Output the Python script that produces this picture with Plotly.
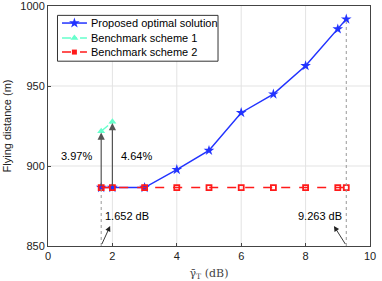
import plotly.graph_objects as go

x_prop = [1.652, 2, 3, 4, 5, 6, 7, 8, 9, 9.263]
y_prop = [886.5, 886.5, 886.5, 897.7, 909.7, 933.3, 944.9, 962.6, 985.6, 991.8]
x_b1 = [1.652, 2]
y_b1 = [921.7, 927.6]
x_b2 = [1.652, 2, 3, 4, 5, 6, 7, 8, 9, 9.263]
y_b2 = [886.5] * 10
pct_labels = ["3.97%", "4.64%"]
db_labels = ["1.652 dB", "9.263 dB"]
series_names = ["Proposed optimal solution", "Benchmark scheme 1", "Benchmark scheme 2"]
x_ticks = [0, 2, 4, 6, 8, 10]
y_ticks = [850, 900, 950, 1000]

BLUE, CYAN, RED = "#2233ff", "#66ffcc", "#ff1a1a"
XR, YR = (0, 10), (850, 1000)

# legend box in plot-area fractions
LBOX = dict(x0=0.0295, x1=0.528, y0=0.770, y1=0.961)


def fx(f):
    return XR[0] + f * (XR[1] - XR[0])


def fy(f):
    return YR[0] + f * (YR[1] - YR[0])


fig = go.Figure()

# gridlines (interrupted behind the legend box)
for xv in x_ticks[1:-1]:
    top = fy(LBOX["y0"]) if fx(LBOX["x0"]) < xv < fx(LBOX["x1"]) else YR[1]
    fig.add_shape(type="line", x0=xv, x1=xv, y0=YR[0], y1=top, layer="below",
                  line=dict(color="#e3e3e3", width=1))
for yv in y_ticks[1:-1]:
    fig.add_shape(type="line", x0=XR[0], x1=XR[1], y0=yv, y1=yv, layer="below",
                  line=dict(color="#e3e3e3", width=1))

fig.add_trace(go.Scatter(x=x_prop, y=y_prop, mode="lines+markers", name=series_names[0],
                         line=dict(color=BLUE, width=1.5),
                         marker=dict(symbol="star", size=8, color=BLUE), showlegend=False))
fig.add_trace(go.Scatter(x=x_b1, y=y_b1, mode="lines+markers", name=series_names[1],
                         line=dict(color=CYAN, width=1.5, dash="dashdot"),
                         marker=dict(symbol="triangle-up", size=7, color=CYAN), showlegend=False))
fig.add_trace(go.Scatter(x=x_b2, y=y_b2, mode="lines+markers", name=series_names[2],
                         line=dict(color=RED, width=1.5, dash="dash"),
                         marker=dict(symbol="square-open", size=5, color=RED, line=dict(width=1.8)),
                         showlegend=False))

# dotted verticals
for xv, yv in [(x_prop[0], y_prop[0]), (x_prop[-1], y_prop[-1])]:
    fig.add_shape(type="line", x0=xv, x1=xv, y0=YR[0], y1=yv,
                  line=dict(color="#999999", width=1, dash="dot"))

# percentage arrows
for xv, yb, yt in [(x_b1[0], y_b2[0], y_b1[0]), (x_b1[1], y_b2[1], y_b1[1])]:
    fig.add_annotation(x=xv, y=yt - 0.8, ax=xv, ay=yb, axref="x", ayref="y", xref="x", yref="y",
                       showarrow=True, arrowhead=2, arrowsize=1.2, arrowwidth=1.2,
                       arrowcolor="#555555", text="")
fig.add_annotation(x=0.87, y=906, text=pct_labels[0], showarrow=False,
                   font=dict(size=11, color="black"))
fig.add_annotation(x=2.75, y=906, text=pct_labels[1], showarrow=False,
                   font=dict(size=11, color="black"))

# dB arrows
fig.add_annotation(x=1.93, y=862.5, ax=1.652, ay=850.3, axref="x", ayref="y",
                   showarrow=True, arrowhead=2, arrowsize=1.2, arrowwidth=0.9,
                   arrowcolor="#222222", text="")
fig.add_annotation(x=2.45, y=868.5, text=db_labels[0], showarrow=False, font=dict(size=11, color="black"))
fig.add_annotation(x=8.88, y=862.5, ax=9.263, ay=850.3, axref="x", ayref="y",
                   showarrow=True, arrowhead=2, arrowsize=1.2, arrowwidth=0.9,
                   arrowcolor="#222222", text="")
fig.add_annotation(x=8.45, y=868.5, text=db_labels[1], showarrow=False, font=dict(size=11, color="black"))

# legend
fig.add_shape(type="rect", xref="x domain", yref="y domain", layer="above",
              line=dict(color="#333333", width=1), **LBOX)
rows = [0.929, 0.867, 0.808]
styles = [(BLUE, "solid", "star", 8), (CYAN, "dashdot", "triangle-up", 7), (RED, "dash", "square", 5)]
for name, ry, (col, dash, sym, sz) in zip(series_names, rows, styles):
    fig.add_trace(go.Scatter(x=[fx(0.0435), fx(0.121)], y=[fy(ry), fy(ry)], mode="lines",
                             line=dict(color=col, width=1.5, dash=dash), showlegend=False,
                             hoverinfo="skip"))
    fig.add_trace(go.Scatter(x=[fx(0.082)], y=[fy(ry)], mode="markers",
                             marker=dict(symbol=sym, size=sz, color=col), showlegend=False,
                             hoverinfo="skip"))
    fig.add_annotation(x=0.127, y=ry, xref="x domain", yref="y domain", text=name, showarrow=False,
                       xanchor="left", yanchor="middle", font=dict(size=11, color="black"))

fig.update_layout(
    width=382, height=281,
    margin=dict(l=48, r=12, t=6, b=35),
    paper_bgcolor="white", plot_bgcolor="white",
    font=dict(family="Liberation Sans, Arial", size=11, color="#222222"),
    showlegend=False, hovermode=False,
    xaxis=dict(range=list(XR), tickvals=x_ticks, showgrid=False, ticklabeloverflow="allow",
               zeroline=False, showline=True, linecolor="#444444", mirror=True, ticks="inside",
               ticklen=3, tickcolor="#444444", automargin=False,
               title=dict(text="γ̄<sub>T</sub> (dB)", standoff=8,
                          font=dict(family="DejaVu Serif, serif", size=11, color="#444444"))),
    yaxis=dict(range=list(YR), tickvals=y_ticks, showgrid=False, ticklabeloverflow="allow",
               zeroline=False, showline=True, linecolor="#444444", mirror=True, ticks="inside",
               ticklen=3, tickcolor="#444444", automargin=False,
               title=dict(text="Flying distance (m)", standoff=6, font=dict(size=11, color="#222222"))),
)

fig.write_html("out.html", config={"displayModeBar": False},
               post_script="document.body.style.margin='0';document.body.style.overflow='hidden';")
